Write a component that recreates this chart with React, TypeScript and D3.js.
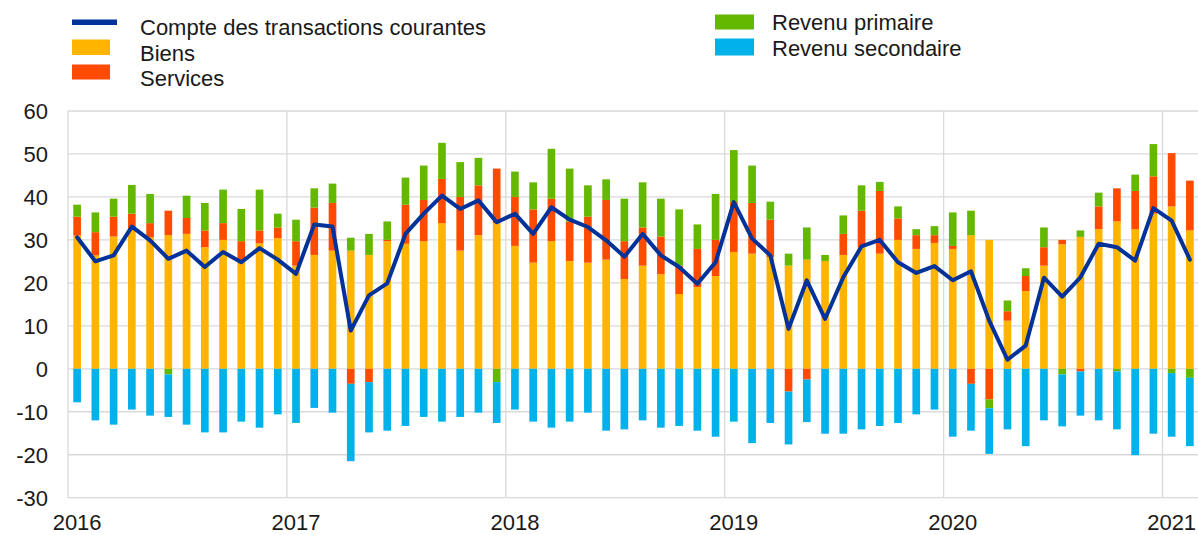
import React from "react";
import * as d3 from "d3";

// Monthly data, Jan 2016 – Feb 2021 (EUR billions)
const years = ["2016", "2017", "2018", "2019", "2020", "2021"];
const monthCount = 62;

const goods = [
  31.0, 26.4, 30.8, 32.6, 30.6, 31.1, 31.4, 28.3, 30.0, 25.2, 29.2, 30.4,
  24.0, 26.5, 27.5, 27.5, 26.5, 29.7, 29.1, 29.7, 33.9, 27.5, 31.1, 33.9,
  28.6, 24.7, 29.7, 25.1, 24.7, 25.4, 20.9, 24.0, 22.0, 17.4, 19.0, 21.6,
  27.2, 26.8, 26.0, 24.0, 25.4, 25.1, 26.5, 28.3, 26.8, 30.0, 27.9, 29.3,
  27.9, 31.1, 30.0, 11.2, 18.1, 24.0, 29.0, 30.7, 32.5, 34.3, 32.5, 36.1,
  37.8, 32.2,
];
const services = [
  4.4, 5.4, 4.6, 3.5, 3.3, 5.7, 3.7, 3.9, 3.9, 4.5, 3.0, 2.5,
  5.7, 11.0, 11.1, -3.5, -3.1, 0.3, 9.1, 9.6, 10.3, 12.5, 11.6, 12.7,
  11.4, 12.4, 9.9, 9.2, 10.7, 13.9, 8.8, 8.9, 8.8, 6.6, 8.9, 8.4,
  11.6, 11.8, 8.7, -5.3, -2.5, 0.0, 4.9, 8.5, 14.6, 5.0, 3.2, 1.8,
  0.7, -3.5, -7.1, 2.2, 3.5, 4.3, 1.0, -0.6, 5.3, 7.7, 8.9, 8.7,
  12.4, 11.6,
];
const primaryIncome = [
  2.8, 4.6, 4.2, 6.7, 6.8, -1.3, 5.2, 6.4, 7.8, 7.5, 9.5, 3.2,
  5.0, 4.5, 4.5, 3.0, 4.9, 4.3, 6.3, 8.0, 8.4, 8.1, 6.4, -3.1,
  5.9, 6.3, 11.6, 12.3, 7.3, 4.8, 9.9, 10.5, 8.8, 13.1, 5.7, 10.7,
  12.1, 8.7, 4.2, 2.8, 7.5, 1.4, 4.3, 5.9, 2.1, 2.8, 1.4, 2.1,
  7.8, 5.7, -2.1, 2.5, 1.8, 4.6, -1.3, 1.5, 3.2, -0.6, 3.8, 7.5,
  -1.0, -2.1,
];
const secondaryIncome = [
  -7.8, -12.0, -13.0, -9.5, -10.9, -9.9, -13.0, -14.8, -14.8, -12.3, -13.7, -10.6,
  -12.6, -9.1, -10.2, -18.0, -11.7, -14.4, -13.3, -11.2, -12.3, -11.2, -10.2, -9.5,
  -9.5, -12.3, -13.7, -12.3, -10.2, -14.4, -14.1, -12.0, -13.7, -13.3, -14.4, -15.8,
  -12.3, -17.3, -12.6, -12.3, -9.9, -15.1, -15.1, -14.1, -13.3, -12.6, -10.6, -9.5,
  -15.8, -10.9, -10.6, -14.1, -18.0, -12.0, -12.1, -10.3, -12.0, -13.5, -20.1, -15.1,
  -14.8, -15.9,
];
const currentAccount = [
  30.6, 25.0, 26.4, 33.1, 29.9, 25.6, 27.5, 23.7, 27.2, 24.8, 28.1, 25.4,
  22.1, 33.6, 33.1, 8.9, 17.1, 19.9, 31.4, 36.1, 40.3, 37.2, 39.2, 34.1,
  36.1, 31.4, 37.6, 34.7, 33.0, 29.9, 26.1, 31.4, 26.4, 23.7, 19.8, 24.8,
  38.8, 30.3, 26.4, 9.3, 20.6, 11.6, 21.3, 28.5, 30.0, 24.8, 22.3, 23.9,
  20.6, 22.7, 11.2, 2.1, 5.4, 21.2, 16.8, 21.3, 29.1, 28.3, 25.2, 37.4,
  34.5, 25.4,
];
const yTicks = [-30, -20, -10, 0, 10, 20, 30, 40, 50, 60];

const seriesKeys = ["goods", "services", "primary", "secondary"];
const seriesColors: Record<string, string> = {
  goods: "#FFB400",
  services: "#FF4B00",
  primary: "#65B800",
  secondary: "#00B1EA",
};
const lineColor = "#003299";
const gridColor = "#d9d9d9";
const textColor = "#1a1a1a";
const font = "'Liberation Sans', Arial, sans-serif";

export default function App() {
  const W = 1198;
  const H = 535;
  const left = 68;
  const right = 1199;
  const top = 111;
  const bottom = 497.7;

  const idx = d3.range(monthCount);
  const rows = idx.map((i) => ({
    i,
    goods: goods[i],
    services: services[i],
    primary: primaryIncome[i],
    secondary: secondaryIncome[i],
  }));

  const x = d3.scaleBand<number>().domain(idx).range([left, right]).padding(0);
  const y = d3.scaleLinear().domain([-30, 60]).range([bottom, top]);
  const bw = x.bandwidth() * 0.42;

  const stacked = d3
    .stack<any>()
    .keys(seriesKeys)
    .offset(d3.stackOffsetDiverging)(rows);

  const line = d3
    .line<number>()
    .x((_, i) => (x(i) as number) + x.bandwidth() / 2)
    .y((d) => y(d));

  const yearStarts = years.map((_, k) => k * 12);

  return (
    <svg
      width={W}
      height={H}
      style={{ position: "absolute", left: 0, top: 0, background: "#fff" }}
      fontFamily={font}
    >
      {yTicks.map((t) => (
        <line
          key={"h" + t}
          x1={left}
          x2={right}
          y1={y(t)}
          y2={y(t)}
          stroke={gridColor}
          strokeWidth={1.3}
        />
      ))}
      {yearStarts.map((s) => (
        <line
          key={"v" + s}
          x1={x(s) as number}
          x2={x(s) as number}
          y1={top}
          y2={bottom}
          stroke={gridColor}
          strokeWidth={1.3}
        />
      ))}
      {yTicks.map((t) => (
        <text
          key={"yl" + t}
          x={48}
          y={y(t)}
          dy="0.36em"
          textAnchor="end"
          fontSize={22}
          fill={textColor}
        >
          {t}
        </text>
      ))}
      {yearStarts.map((s, k) => (
        <text
          key={"xl" + s}
          x={(x(s) as number) + x.bandwidth() / 2}
          y={530}
          textAnchor="middle"
          fontSize={22}
          fill={textColor}
        >
          {years[k]}
        </text>
      ))}
      {stacked.map((layer) => (
        <g key={layer.key} fill={seriesColors[layer.key]}>
          {layer.map((d, i) => {
            const y0 = y(d[0]);
            const y1 = y(d[1]);
            const h = Math.abs(y0 - y1);
            if (h < 0.01) return null;
            return (
              <rect
                key={i}
                x={(x(i) as number) + (x.bandwidth() - bw) / 2}
                y={Math.min(y0, y1)}
                width={bw}
                height={h}
              />
            );
          })}
        </g>
      ))}
      <path
        d={line(currentAccount) || ""}
        fill="none"
        stroke={lineColor}
        strokeWidth={4}
        strokeLinejoin="round"
        strokeLinecap="round"
      />
      {/* legend left */}
      <rect x={72} y={19.5} width={45} height={5.5} fill={lineColor} />
      <text x={140} y={35} fontSize={22} fill={textColor}>
        Compte des transactions courantes
      </text>
      <rect x={72} y={39.5} width={38} height={15.5} fill={seriesColors.goods} />
      <text x={140} y={61} fontSize={22} fill={textColor}>
        Biens
      </text>
      <rect x={72} y={64.5} width={38} height={15} fill={seriesColors.services} />
      <text x={140} y={86} fontSize={22} fill={textColor}>
        Services
      </text>
      {/* legend right */}
      <rect x={715} y={14.5} width={39} height={15} fill={seriesColors.primary} />
      <text x={772} y={30} fontSize={22} fill={textColor}>
        Revenu primaire
      </text>
      <rect x={715} y={38.5} width={39} height={17} fill={seriesColors.secondary} />
      <text x={772} y={55.5} fontSize={22} fill={textColor}>
        Revenu secondaire
      </text>
    </svg>
  );
}
